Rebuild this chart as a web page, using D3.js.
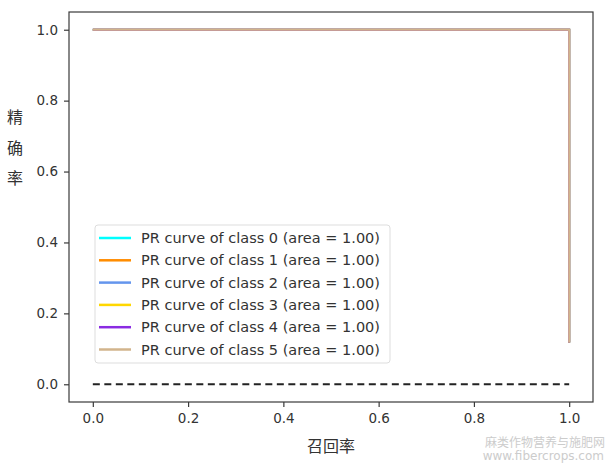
<!DOCTYPE html>
<html><head><meta charset="utf-8">
<script src="https://cdn.jsdelivr.net/npm/d3@7/dist/d3.min.js"></script>
<style>body{margin:0;background:#fff;}text{font-family:"DejaVu Sans",sans-serif;}</style>
</head><body><svg id="c" width="610" height="467"></svg>
<script>
const classes = [0,1,2,3,4,5];
const colors = ["#00FFFF","#FF8C00","#6495ED","#FFD700","#8A2BE2","#D2B48C"];
const areas = [1.00,1.00,1.00,1.00,1.00,1.00];
const recall = [0.0, 1.0, 1.0];
const precision = [1.0, 1.0, 0.118];
const diagX = [0, 1];
const diagY = [0, 0];
const ticks = [0.0,0.2,0.4,0.6,0.8,1.0];

const svg = d3.select("#c");
const L=69,R=593,T=12,B=402;
const x = d3.scaleLinear().domain([-0.05,1.05]).range([L,R]);
const y = d3.scaleLinear().domain([-0.05,1.05]).range([B,T]);
const axCol="#3a3a3a";

// curves
const line = d3.line().x(d=>x(d[0])).y(d=>y(d[1]));
classes.forEach((c,i)=>{
  svg.append("path").datum(recall.map((r,j)=>[r,precision[j]]))
    .attr("d",line).attr("fill","none").attr("stroke",colors[i]).attr("stroke-width",2);
});
svg.append("path").datum(diagX.map((v,j)=>[v,diagY[j]])).attr("d",line)
  .attr("fill","none").attr("stroke","#222").attr("stroke-width",2).attr("stroke-dasharray","7,4.5");

// frame
svg.append("rect").attr("x",L).attr("y",T).attr("width",R-L).attr("height",B-T)
  .attr("fill","none").attr("stroke",axCol).attr("stroke-width",1.2);

const xa = svg.append("g").attr("transform",`translate(0,${B})`)
  .call(d3.axisBottom(x).tickValues(ticks).tickFormat(d3.format(".1f")).tickSize(5).tickPadding(6));
const ya = svg.append("g").attr("transform",`translate(${L},0)`)
  .call(d3.axisLeft(y).tickValues(ticks).tickFormat(d3.format(".1f")).tickSize(5).tickPadding(6));
[xa,ya].forEach(a=>{
  a.select(".domain").remove();
  a.selectAll("line").attr("stroke",axCol).attr("stroke-width",1.2);
  a.selectAll("text").attr("fill","#333").style("font-size","13.5px").style("font-family","DejaVu Sans");
});

// labels
svg.append("text").attr("x",x(0.5)).attr("y",452).attr("text-anchor","middle")
  .style("font-family","Noto Sans CJK SC").style("font-size","16px").attr("fill","#333").text("召回率");
["精","确","率"].forEach((ch,i)=>{
  svg.append("text").attr("x",15).attr("y",123+i*30.5).attr("text-anchor","middle")
    .style("font-family","Noto Sans CJK SC").style("font-size","16px").attr("fill","#333").text(ch);
});

// legend
const lg = svg.append("g");
lg.append("rect").attr("x",95).attr("y",225).attr("width",295).attr("height",138).attr("rx",3)
  .attr("fill","#fff").attr("fill-opacity",0.8).attr("stroke","#ddd");
classes.forEach((c,i)=>{
  const yy = 238 + i*22.3;
  lg.append("line").attr("x1",99).attr("x2",131).attr("y1",yy).attr("y2",yy)
    .attr("stroke",colors[i]).attr("stroke-width",2.5);
  lg.append("text").attr("x",141).attr("y",yy+5).style("font-size","14.5px").attr("fill","#333")
    .text(`PR curve of class ${c} (area = ${areas[i].toFixed(2)})`);
});

// watermark
svg.append("text").attr("x",605).attr("y",447).attr("text-anchor","end")
  .style("font-family","Noto Sans CJK SC").style("font-size","12px").attr("fill","#ccc").text("麻类作物营养与施肥网");
svg.append("text").attr("x",604).attr("y",460).attr("text-anchor","end")
  .style("font-size","12px").attr("fill","#ccc").text("www.fibercrops.com");
</script></body></html>
